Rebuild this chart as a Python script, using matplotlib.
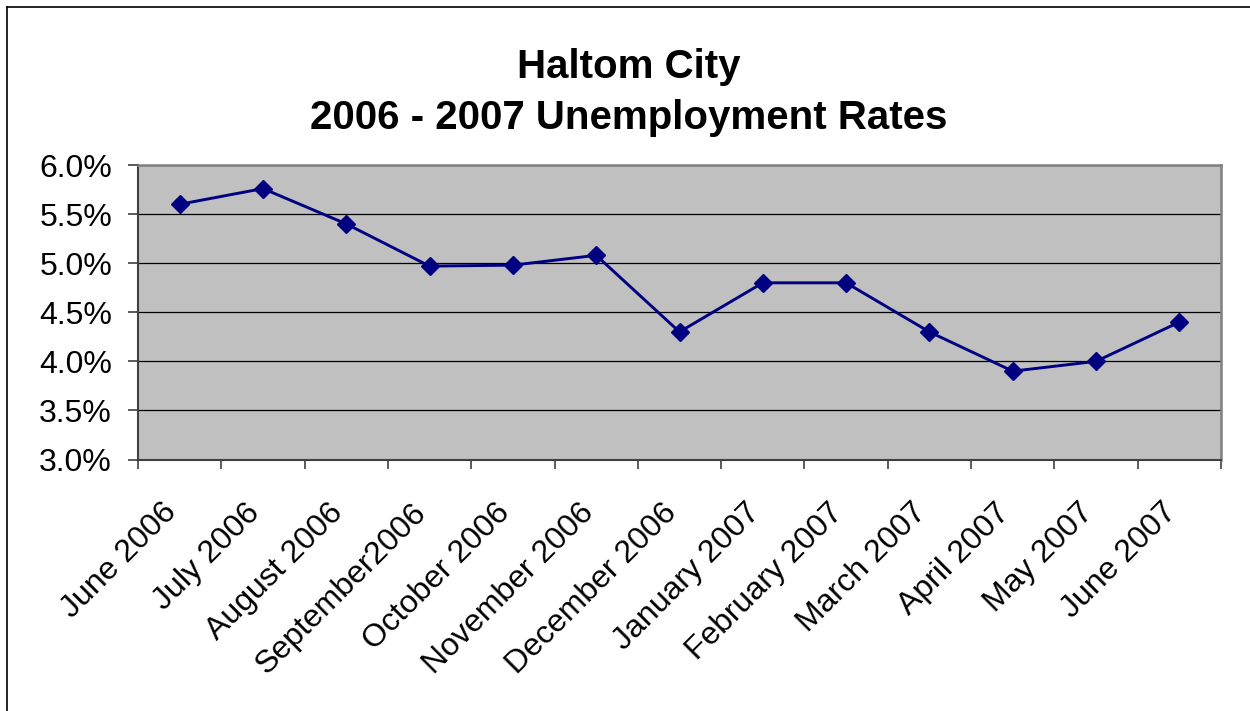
import matplotlib
matplotlib.use("Agg")
import matplotlib.pyplot as plt
from matplotlib.lines import Line2D
from matplotlib.ticker import FixedLocator, PercentFormatter, NullFormatter

months = ["June 2006", "July 2006", "August 2006", "September2006", "October 2006",
          "November 2006", "December 2006", "January 2007", "February 2007",
          "March 2007", "April 2007", "May 2007", "June 2007"]
rates = [5.60, 5.76, 5.40, 4.97, 4.98, 5.08, 4.30, 4.80, 4.80, 4.30, 3.90, 4.00, 4.40]
y_ticks = [3.0, 3.5, 4.0, 4.5, 5.0, 5.5, 6.0]
title_lines = ["Haltom City", "2006 - 2007 Unemployment Rates"]

plt.rcParams["font.family"] = ["Liberation Sans", "DejaVu Sans"]

fig = plt.figure(figsize=(12.5, 7.11), dpi=100)
ax = fig.add_axes([0.1104, 0.3537, 0.9768 - 0.1104, 0.7679 - 0.3537])
ax.set_facecolor("#C0C0C0")

x = list(range(len(months)))
ax.plot(x, rates, color="#000080", lw=2.1, marker="D", ms=9.5,
        markerfacecolor="#000080", markeredgecolor="#000080", zorder=3)

ax.set_xlim(-0.5, len(months) - 0.5)
ax.set_ylim(y_ticks[0], y_ticks[-1])
ax.set_yticks(y_ticks)
ax.yaxis.set_major_formatter(PercentFormatter(xmax=100, decimals=1))
ax.yaxis.grid(True, color="black", lw=0.9)
ax.set_axisbelow(True)

# tick marks at the category boundaries
ax.xaxis.set_major_locator(FixedLocator([i - 0.5 for i in range(len(months) + 1)]))
ax.xaxis.set_major_formatter(NullFormatter())
ax.tick_params(axis="x", length=6.5, width=1.2, color="#404040", direction="out")
ax.tick_params(axis="y", length=7.2, width=1.2, color="#404040", direction="out",
               labelsize=23, pad=11.5)

# slanted category labels centred under each point
for i, m in enumerate(months):
    ax.annotate(m, xy=(i, 0), xycoords=ax.get_xaxis_transform(),
                xytext=(-18, -38), textcoords="offset pixels",
                rotation=45, rotation_mode="anchor", ha="right", va="top",
                fontsize=23)

for side in ("top", "right"):
    ax.spines[side].set_color("#808080")
    ax.spines[side].set_linewidth(1.8)
for side in ("left", "bottom"):
    ax.spines[side].set_color("#404040")
    ax.spines[side].set_linewidth(1.5)

fig.text(0.503, 1 - 67 / 711, title_lines[0], ha="center", va="center",
         fontsize=29, fontweight="bold")
fig.text(0.503, 1 - 118 / 711, title_lines[1], ha="center", va="center",
         fontsize=29, fontweight="bold")

# outer chart frame
fig.add_artist(Line2D([7 / 1250, 7 / 1250], [0, 1 - 7 / 711], color="black", lw=1.2,
                      transform=fig.transFigure))
fig.add_artist(Line2D([7 / 1250, 1], [1 - 7 / 711, 1 - 7 / 711], color="black", lw=1.2,
                      transform=fig.transFigure))

fig.savefig("out.png", dpi=100)
